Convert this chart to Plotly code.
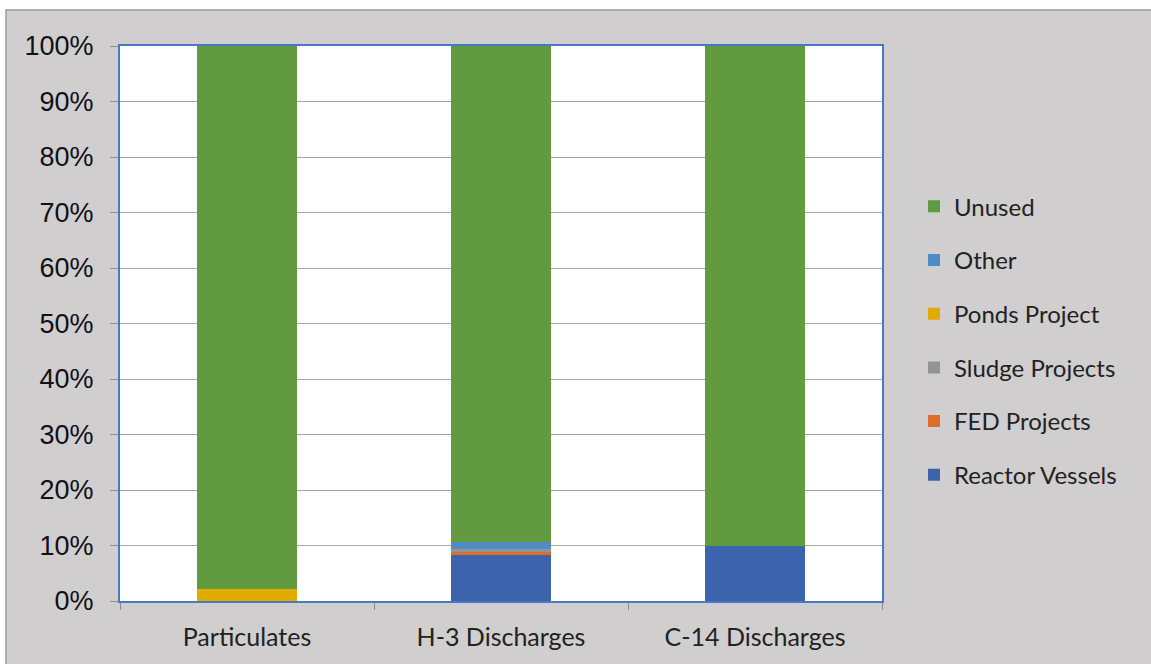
import plotly.graph_objects as go

# Share of each discharge allowance, percent
categories = ["Particulates", "H-3 Discharges", "C-14 Discharges"]
reactor_vessels = [0.0, 8.2, 9.9]
fed_projects = [0.0, 0.7, 0.0]
sludge_projects = [0.0, 0.4, 0.0]
ponds_project = [2.1, 0.0, 0.0]
other = [0.0, 1.4, 0.0]
unused = [100 - sum(v) for v in zip(reactor_vessels, fed_projects, sludge_projects, ponds_project, other)]

series = [
    ("Reactor Vessels", reactor_vessels, "#3C64AC"),
    ("FED Projects", fed_projects, "#DC6D2B"),
    ("Sludge Projects", sludge_projects, "#949494"),
    ("Ponds Project", ponds_project, "#E2AB00"),
    ("Other", other, "#4F8BC4"),
    ("Unused", unused, "#629A3F"),
]

fig = go.Figure()
n = len(series)
for i, (name, vals, color) in enumerate(series):
    fig.add_trace(go.Bar(
        x=categories, y=vals, name=name, legendgroup=name,
        legendrank=(n - i) * 100,  # top of the stack listed first
        marker=dict(color=color, line=dict(width=0)),
        hoverinfo="x+y+name",
    ))

W, H = 1151, 664
ml, mr, mt, mb = 120, 269, 46, 63
pw, ph = W - ml - mr, H - mt - mb

def px_x(p):
    return (p - ml) / pw

def px_y(p):
    return (H - mb - p) / ph

fig.update_layout(
    width=W, height=H,
    margin=dict(l=ml, r=mr, t=mt, b=mb, pad=0),
    barmode="stack",
    bargap=0.61,
    paper_bgcolor="white",
    plot_bgcolor="white",
    showlegend=True,
    legend=dict(
        x=px_x(914), xanchor="left", y=0.469, yanchor="middle",
        traceorder="grouped", tracegroupgap=19.5,
        font=dict(family="Lato", size=24, color="#222222"),
        bgcolor="rgba(0,0,0,0)", itemwidth=30,
    ),
    shapes=[
        # grey chart frame
        dict(type="rect", xref="paper", yref="paper", layer="below",
             x0=px_x(6), x1=px_x(1170), y0=px_y(690), y1=px_y(10),
             fillcolor="#D0CECF", line=dict(color="#9A9A9A", width=1.5)),
        # white plotting area
        dict(type="rect", xref="paper", yref="paper", layer="below",
             x0=0, x1=1, y0=0, y1=1, fillcolor="white", line=dict(width=0)),
    ],
)

fig.update_xaxes(
    showline=True, mirror=True, linecolor="#4A78C8", linewidth=2,
    ticks="outside", tickson="boundaries", ticklen=7, tickcolor="#8C8C8C", tickwidth=1,
    showgrid=False,
    tickfont=dict(family="Lato", size=25, color="#222222"),
    ticklabelstandoff=13,
)
fig.update_yaxes(
    range=[0, 100], dtick=10, ticksuffix="%",
    showline=True, mirror=True, linecolor="#4A78C8", linewidth=2,
    ticks="outside", ticklen=8, tickcolor="#8C8C8C", tickwidth=1,
    showgrid=True, gridcolor="#A6A6A6", gridwidth=1,
    zeroline=False,
    tickfont=dict(family="Liberation Sans", size=27, color="#111111"),
    ticklabelstandoff=11,
)

fig.write_html("out.html")
